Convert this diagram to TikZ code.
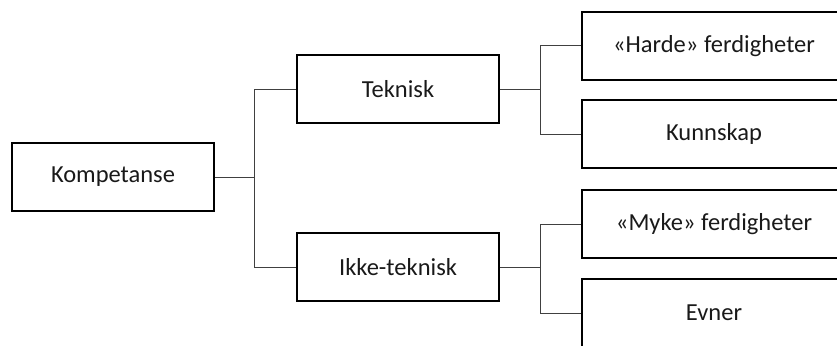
\documentclass[tikz,border=0pt]{standalone}
\usepackage{fontspec}
\setmainfont{Carlito}
\begin{document}
\begin{tikzpicture}[x=1pt,y=-1pt,
  box/.style={draw=black,line width=1.7pt,rectangle,minimum height=68pt,inner sep=0pt,font=\fontsize{24.5}{28}\selectfont,text=black!90},
  lbox/.style={box,minimum width=202pt},
  rbox/.style={box,minimum width=264pt},
  conn/.style={draw=black!75,line width=1pt}]
\useasboundingbox (0,0) rectangle (837,345);
\clip (0,0) rectangle (837,345);
\node[lbox] (komp) at (113,177) {Kompetanse};
\node[lbox] (tek) at (398,89) {Teknisk};
\node[lbox] (ikke) at (398,267) {Ikke-teknisk};
\node[rbox] (harde) at (714,46) {«Harde» ferdigheter};
\node[rbox] (kunn) at (714,134) {Kunnskap};
\node[rbox] (myke) at (714,224) {«Myke» ferdigheter};
\node[rbox] (evner) at (714,313) {Evner};
\draw[conn] (komp.east) -- ++(40,0) coordinate (j1);
\draw[conn] (tek.west) -| (j1) |- (ikke.west);
\draw[conn] (tek.east) -- ++(41,0) coordinate (j2);
\draw[conn] (harde.west) -| (j2) |- (kunn.west);
\draw[conn] (ikke.east) -- ++(41,0) coordinate (j3);
\draw[conn] (myke.west) -| (j3) |- (evner.west);
\end{tikzpicture}
\end{document}
